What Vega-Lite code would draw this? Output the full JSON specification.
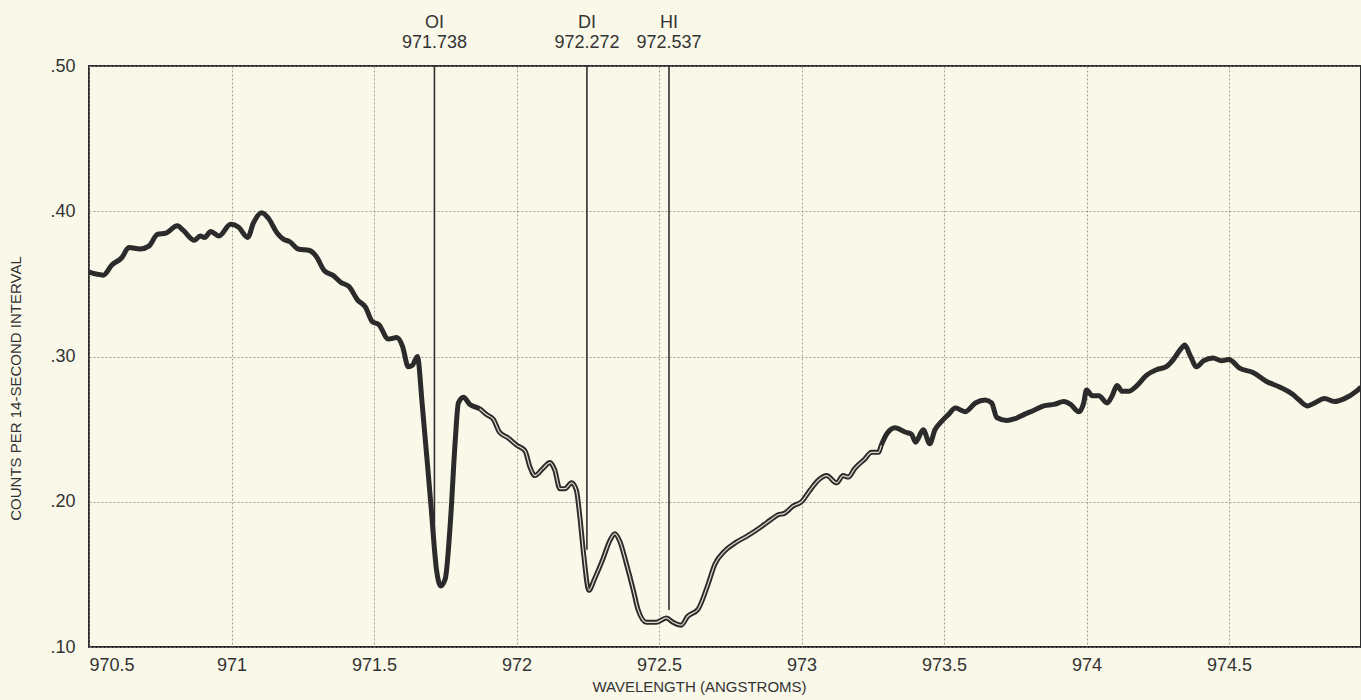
{
  "$schema": "https://vega.github.io/schema/vega-lite/v6.json",
  "width": 1272,
  "height": 581,
  "autosize": {"type": "none"},
  "padding": {"left": 89, "top": 66, "right": 0, "bottom": 53},
  "background": "#faf8e9",
  "config": {
    "view": {"stroke": "#2f2f2f", "strokeWidth": 2},
    "font": "Liberation Sans"
  },
  "datasets": {
    "spectrum": [
      {"wl": 970.50, "c": 0.358}, {"wl": 970.55, "c": 0.356}, {"wl": 970.58, "c": 0.363}, {"wl": 970.615, "c": 0.368},
      {"wl": 970.64, "c": 0.375}, {"wl": 970.68, "c": 0.374}, {"wl": 970.71, "c": 0.376}, {"wl": 970.74, "c": 0.384},
      {"wl": 970.77, "c": 0.385}, {"wl": 970.81, "c": 0.390}, {"wl": 970.83, "c": 0.387}, {"wl": 970.87, "c": 0.380},
      {"wl": 970.89, "c": 0.383}, {"wl": 970.906, "c": 0.382}, {"wl": 970.927, "c": 0.386}, {"wl": 970.956, "c": 0.383},
      {"wl": 970.997, "c": 0.391}, {"wl": 971.025, "c": 0.389}, {"wl": 971.057, "c": 0.382}, {"wl": 971.077, "c": 0.392},
      {"wl": 971.106, "c": 0.399}, {"wl": 971.13, "c": 0.395}, {"wl": 971.16, "c": 0.385}, {"wl": 971.18, "c": 0.381},
      {"wl": 971.205, "c": 0.379}, {"wl": 971.234, "c": 0.374}, {"wl": 971.274, "c": 0.373}, {"wl": 971.297, "c": 0.369},
      {"wl": 971.326, "c": 0.359}, {"wl": 971.355, "c": 0.356}, {"wl": 971.384, "c": 0.351}, {"wl": 971.413, "c": 0.348},
      {"wl": 971.442, "c": 0.339}, {"wl": 971.47, "c": 0.334}, {"wl": 971.494, "c": 0.324}, {"wl": 971.517, "c": 0.322},
      {"wl": 971.55, "c": 0.312}, {"wl": 971.58, "c": 0.313}, {"wl": 971.60, "c": 0.307}, {"wl": 971.62, "c": 0.293},
      {"wl": 971.635, "c": 0.294}, {"wl": 971.652, "c": 0.300}, {"wl": 971.67, "c": 0.265}, {"wl": 971.70, "c": 0.197},
      {"wl": 971.72, "c": 0.152}, {"wl": 971.734, "c": 0.142}, {"wl": 971.75, "c": 0.147}, {"wl": 971.768, "c": 0.186},
      {"wl": 971.785, "c": 0.242}, {"wl": 971.796, "c": 0.268}, {"wl": 971.814, "c": 0.272}, {"wl": 971.836, "c": 0.267},
      {"wl": 971.871, "c": 0.264}, {"wl": 971.895, "c": 0.260}, {"wl": 971.918, "c": 0.257}, {"wl": 971.94, "c": 0.248},
      {"wl": 971.97, "c": 0.244}, {"wl": 972.0, "c": 0.239}, {"wl": 972.03, "c": 0.235}, {"wl": 972.047, "c": 0.224},
      {"wl": 972.064, "c": 0.218}, {"wl": 972.093, "c": 0.223}, {"wl": 972.117, "c": 0.227}, {"wl": 972.134, "c": 0.222},
      {"wl": 972.152, "c": 0.209}, {"wl": 972.17, "c": 0.209}, {"wl": 972.193, "c": 0.213}, {"wl": 972.21, "c": 0.208},
      {"wl": 972.222, "c": 0.190}, {"wl": 972.236, "c": 0.163}, {"wl": 972.254, "c": 0.139}, {"wl": 972.274, "c": 0.147},
      {"wl": 972.304, "c": 0.161}, {"wl": 972.327, "c": 0.173}, {"wl": 972.345, "c": 0.178}, {"wl": 972.362, "c": 0.173},
      {"wl": 972.386, "c": 0.157}, {"wl": 972.41, "c": 0.139}, {"wl": 972.426, "c": 0.126}, {"wl": 972.456, "c": 0.117},
      {"wl": 972.49, "c": 0.117}, {"wl": 972.526, "c": 0.120}, {"wl": 972.549, "c": 0.117}, {"wl": 972.578, "c": 0.115},
      {"wl": 972.60, "c": 0.121}, {"wl": 972.637, "c": 0.126}, {"wl": 972.67, "c": 0.142}, {"wl": 972.696, "c": 0.157},
      {"wl": 972.73, "c": 0.166}, {"wl": 972.77, "c": 0.172}, {"wl": 972.81, "c": 0.1765}, {"wl": 972.86, "c": 0.183},
      {"wl": 972.895, "c": 0.188}, {"wl": 972.918, "c": 0.191}, {"wl": 972.94, "c": 0.192}, {"wl": 972.97, "c": 0.197},
      {"wl": 973.0, "c": 0.200}, {"wl": 973.03, "c": 0.208}, {"wl": 973.06, "c": 0.215}, {"wl": 973.088, "c": 0.218},
      {"wl": 973.123, "c": 0.213}, {"wl": 973.146, "c": 0.218}, {"wl": 973.164, "c": 0.217}, {"wl": 973.187, "c": 0.223},
      {"wl": 973.22, "c": 0.229}, {"wl": 973.246, "c": 0.234}, {"wl": 973.27, "c": 0.234}, {"wl": 973.28, "c": 0.239},
      {"wl": 973.30, "c": 0.247}, {"wl": 973.328, "c": 0.251}, {"wl": 973.363, "c": 0.248}, {"wl": 973.386, "c": 0.2465},
      {"wl": 973.40, "c": 0.241}, {"wl": 973.427, "c": 0.2495}, {"wl": 973.45, "c": 0.240}, {"wl": 973.468, "c": 0.2495},
      {"wl": 973.49, "c": 0.255}, {"wl": 973.515, "c": 0.260}, {"wl": 973.54, "c": 0.2645}, {"wl": 973.574, "c": 0.262},
      {"wl": 973.61, "c": 0.268}, {"wl": 973.644, "c": 0.270}, {"wl": 973.667, "c": 0.268}, {"wl": 973.685, "c": 0.258},
      {"wl": 973.72, "c": 0.256}, {"wl": 973.746, "c": 0.257}, {"wl": 973.78, "c": 0.260}, {"wl": 973.816, "c": 0.263},
      {"wl": 973.85, "c": 0.266}, {"wl": 973.886, "c": 0.267}, {"wl": 973.92, "c": 0.269}, {"wl": 973.944, "c": 0.267},
      {"wl": 973.973, "c": 0.262}, {"wl": 973.99, "c": 0.268}, {"wl": 974.0, "c": 0.277}, {"wl": 974.02, "c": 0.273},
      {"wl": 974.043, "c": 0.273}, {"wl": 974.072, "c": 0.268}, {"wl": 974.09, "c": 0.273}, {"wl": 974.107, "c": 0.280},
      {"wl": 974.125, "c": 0.276}, {"wl": 974.148, "c": 0.276}, {"wl": 974.177, "c": 0.280}, {"wl": 974.21, "c": 0.287},
      {"wl": 974.247, "c": 0.291}, {"wl": 974.28, "c": 0.293}, {"wl": 974.305, "c": 0.298}, {"wl": 974.33, "c": 0.305},
      {"wl": 974.345, "c": 0.308}, {"wl": 974.363, "c": 0.301}, {"wl": 974.386, "c": 0.293}, {"wl": 974.41, "c": 0.297},
      {"wl": 974.444, "c": 0.299}, {"wl": 974.473, "c": 0.297}, {"wl": 974.50, "c": 0.298}, {"wl": 974.537, "c": 0.292},
      {"wl": 974.584, "c": 0.289}, {"wl": 974.63, "c": 0.283}, {"wl": 974.677, "c": 0.279}, {"wl": 974.723, "c": 0.274},
      {"wl": 974.746, "c": 0.270}, {"wl": 974.776, "c": 0.266}, {"wl": 974.80, "c": 0.268}, {"wl": 974.835, "c": 0.271},
      {"wl": 974.87, "c": 0.269}, {"wl": 974.905, "c": 0.271}, {"wl": 974.946, "c": 0.276}, {"wl": 974.963, "c": 0.279}
    ],
    "lines": [
      {"name": "OI", "label": "971.738", "wl": 971.712, "end": 0.1756},
      {"name": "DI", "label": "972.272", "wl": 972.247, "end": 0.167},
      {"name": "HI", "label": "972.537", "wl": 972.535, "end": 0.1254}
    ]
  },
  "encoding": {
    "x": {
      "field": "wl", "type": "quantitative", "title": "WAVELENGTH (ANGSTROMS)",
      "scale": {"domain": [970.5, 974.963], "nice": false, "zero": false},
      "axis": {
        "values": [970.5, 971, 971.5, 972, 972.5, 973, 973.5, 974, 974.5],
        "labelExpr": "format(datum.value, '~f')",
        "grid": true, "gridColor": "#8a8a8a", "gridDash": [2, 2], "gridWidth": 1, "gridOpacity": 0.8,
        "domain": false, "ticks": false, "labelPadding": 9, "labelFontSize": 18, "labelColor": "#333333",
        "labelFlush": true, "labelFlushOffset": 0,
        "titleFontSize": 15, "titleFontWeight": "normal", "titleColor": "#333333",
        "titleX": 610, "titleY": 39, "titleAlign": "center", "titleBaseline": "middle"
      }
    }
  },
  "layer": [
    {
      "data": {"name": "spectrum"},
      "mark": {"type": "line", "color": "#2b2b2b", "strokeWidth": 5, "interpolate": "monotone", "clip": true},
      "encoding": {
        "y": {
          "field": "c", "type": "quantitative", "title": "COUNTS PER 14-SECOND INTERVAL",
          "scale": {"domain": [0.1, 0.5], "nice": false, "zero": false},
          "axis": {
            "values": [0.1, 0.2, 0.3, 0.4, 0.5],
            "labelExpr": "replace(format(datum.value, '.2f'), '0.', '.')",
            "grid": true, "gridColor": "#8a8a8a", "gridDash": [2, 2], "gridWidth": 1, "gridOpacity": 0.8,
            "domain": false, "ticks": false, "labelPadding": 14, "labelFontSize": 18, "labelColor": "#333333",
            "labelFlush": false,
            "titleFontSize": 15, "titleFontWeight": "normal", "titleColor": "#333333",
            "titleX": -74, "titleY": 322, "titleAngle": -90, "titleAlign": "center", "titleBaseline": "middle"
          }
        }
      }
    },
    {
      "data": {"name": "spectrum"},
      "transform": [{"filter": {"field": "wl", "range": [971.84, 973.28]}}],
      "mark": {"type": "line", "color": "#dedbcb", "strokeWidth": 1.2, "interpolate": "monotone", "clip": true},
      "encoding": {
        "y": {"field": "c", "type": "quantitative", "title": "COUNTS PER 14-SECOND INTERVAL"}
      }
    },
    {
      "data": {"name": "lines"},
      "mark": {"type": "rule", "color": "#2f2f2f", "strokeWidth": 1.6},
      "encoding": {
        "y": {"field": "end", "type": "quantitative", "title": "COUNTS PER 14-SECOND INTERVAL"},
        "y2": {"datum": 0.5}
      }
    },
    {
      "data": {"name": "lines"},
      "mark": {"type": "text", "fontSize": 18, "color": "#333333", "baseline": "middle", "align": "center", "dy": -43},
      "encoding": {
        "y": {"datum": 0.5, "type": "quantitative"},
        "text": {"field": "name", "type": "nominal"}
      }
    },
    {
      "data": {"name": "lines"},
      "mark": {"type": "text", "fontSize": 18, "color": "#333333", "baseline": "middle", "align": "center", "dy": -23},
      "encoding": {
        "y": {"datum": 0.5, "type": "quantitative"},
        "text": {"field": "label", "type": "nominal"}
      }
    }
  ]
}
